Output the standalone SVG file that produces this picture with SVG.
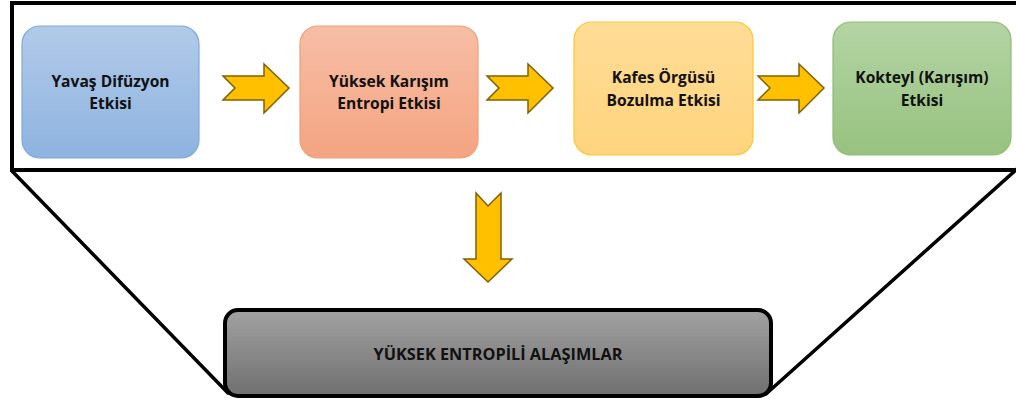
<svg xmlns="http://www.w3.org/2000/svg" width="1016" height="403" viewBox="0 0 1016 403">
  <defs>
    <style>
      .lbl { font-family: "Open Sans", "Liberation Sans", sans-serif; font-weight: 700; font-size: 15.6px; fill: #111; text-anchor: middle; }
      .big { font-size: 16.3px; }
      .frame { fill: none; stroke: #000; stroke-width: 4; }
      .funnel { fill: none; stroke: #000; stroke-width: 3.5; stroke-linecap: round; }
      .arrow { fill: #ffc000; stroke: #7f6000; stroke-width: 1.5; stroke-linejoin: miter; }
      .node { stroke-width: 1.2; }
    </style>
    <linearGradient id="gBlue" x1="0" y1="0" x2="0" y2="1">
      <stop offset="0" stop-color="#b1cae9"/>
      <stop offset="1" stop-color="#8eb3df"/>
    </linearGradient>
    <linearGradient id="gOrange" x1="0" y1="0" x2="0" y2="1">
      <stop offset="0" stop-color="#f6bea6"/>
      <stop offset="1" stop-color="#f4a481"/>
    </linearGradient>
    <linearGradient id="gYellow" x1="0" y1="0" x2="0" y2="1">
      <stop offset="0" stop-color="#ffdc96"/>
      <stop offset="1" stop-color="#ffd47e"/>
    </linearGradient>
    <linearGradient id="gGreen" x1="0" y1="0" x2="0" y2="1">
      <stop offset="0" stop-color="#b4d4a4"/>
      <stop offset="1" stop-color="#97c27f"/>
    </linearGradient>
    <linearGradient id="gGrey" x1="0" y1="0" x2="0" y2="1">
      <stop offset="0" stop-color="#a2a2a2"/>
      <stop offset="1" stop-color="#6f6f6f"/>
    </linearGradient>
    <!-- right-pointing block arrow with notched tail, origin at tail centre -->
    <path id="chevron" class="arrow" d="M0,-12 L41,-12 L41,-24 L66,0 L41,25 L41,12 L0,12 L12,0 Z"/>
  </defs>

  <rect width="1016" height="403" fill="#fff"/>

  <!-- frame around the four effects and the funnel sides -->
  <g id="frame">
    <rect class="frame" x="12" y="3" width="1012" height="167"/>
    <line class="funnel" x1="12" y1="171" x2="228" y2="393"/>
    <line class="funnel" x1="1018" y1="168" x2="766" y2="394"/>
  </g>

  <g id="connectors">
    <use href="#chevron" x="223" y="88"/>
    <use href="#chevron" x="487" y="88"/>
    <use href="#chevron" x="758" y="88"/>
    <path class="arrow" d="M476,193 L488,206 L501,193 L501,259 L512,259 L488,282 L464,259 L476,259 Z"/>
  </g>

  <g id="node-yavas-difuzyon">
    <rect class="node" x="22" y="26" width="177" height="132" rx="18" fill="url(#gBlue)" stroke="#7ea9dc"/>
    <text class="lbl" x="110.5" y="87">Yavaş Difüzyon</text>
    <text class="lbl" x="110.5" y="109">Etkisi</text>
  </g>

  <g id="node-yuksek-karisim">
    <rect class="node" x="300" y="26" width="178" height="132" rx="18" fill="url(#gOrange)" stroke="#f19f74"/>
    <text class="lbl" x="389" y="87">Yüksek Karışım</text>
    <text class="lbl" x="389" y="109">Entropi Etkisi</text>
  </g>

  <g id="node-kafes-orgusu">
    <rect class="node" x="574" y="22" width="179" height="133" rx="18" fill="url(#gYellow)" stroke="#ffc62e"/>
    <text class="lbl" x="663.5" y="83">Kafes Örgüsü</text>
    <text class="lbl" x="663.5" y="106">Bozulma Etkisi</text>
  </g>

  <g id="node-kokteyl">
    <rect class="node" x="833" y="22" width="178" height="133" rx="18" fill="url(#gGreen)" stroke="#8dbd73"/>
    <text class="lbl" x="922" y="83">Kokteyl (Karışım)</text>
    <text class="lbl" x="922" y="106">Etkisi</text>
  </g>

  <g id="node-yuksek-entropili">
    <rect x="225" y="310" width="546" height="86" rx="13" fill="url(#gGrey)" stroke="#000" stroke-width="4"/>
    <text class="lbl big" x="498" y="360">YÜKSEK ENTROPİLİ ALAŞIMLAR</text>
  </g>
</svg>
